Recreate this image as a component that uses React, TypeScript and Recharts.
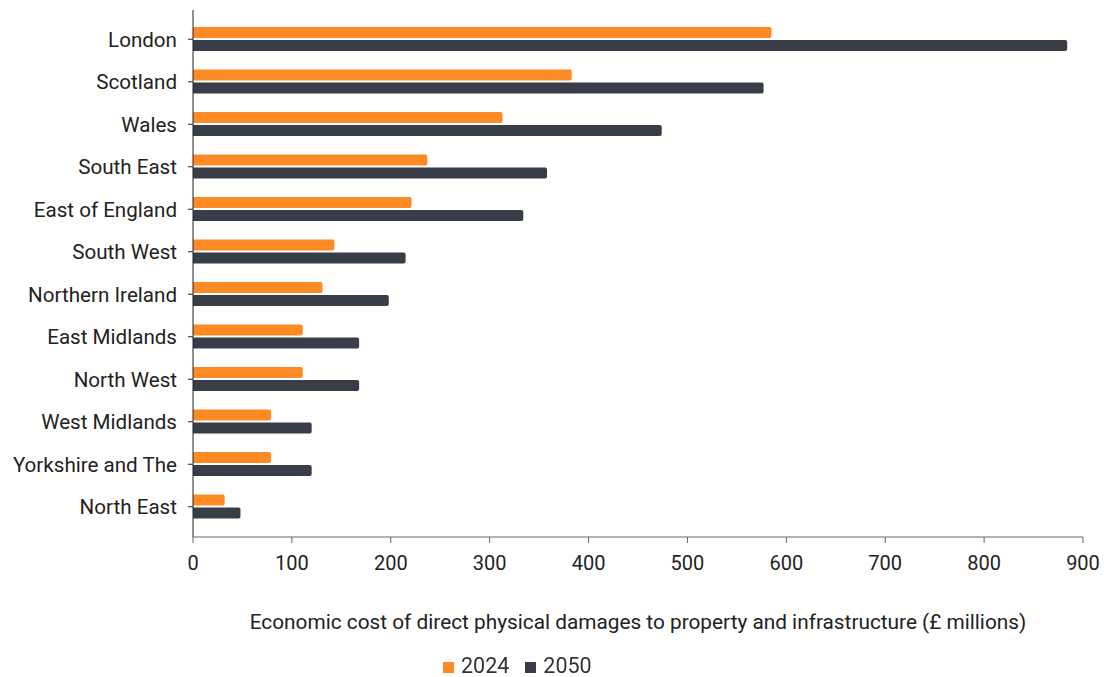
import { BarChart, Bar, XAxis, YAxis, Legend, Label } from 'recharts';

const regions = [
  'London',
  'Scotland',
  'Wales',
  'South East',
  'East of England',
  'South West',
  'Northern Ireland',
  'East Midlands',
  'North West',
  'West Midlands',
  'Yorkshire and The',
  'North East',
];
const cost2024 = [585, 383, 313, 237, 221, 143, 131, 111, 111, 79, 79, 32];
const cost2050 = [884, 577, 474, 358, 334, 215, 198, 168, 168, 120, 120, 48];
const xTicks = [0, 100, 200, 300, 400, 500, 600, 700, 800, 900];

const data = regions.map((region, i) => ({
  region,
  y2024: cost2024[i],
  y2050: cost2050[i],
}));

const font = 'Roboto, "Noto Sans", sans-serif';

export default function App() {
  return (
    <div style={{ position: 'fixed', left: 0, top: 0, background: '#fff' }}>
      <BarChart
        width={1104}
        height={677}
        data={data}
        layout="vertical"
        margin={{ top: 10, right: 21, bottom: 20, left: 0 }}
        barSize={11}
        barGap={2}
        style={{ fontFamily: font }}
      >
        <XAxis
          type="number"
          domain={[0, 900]}
          ticks={xTicks}
          axisLine={{ stroke: '#666' }}
          tickLine={{ stroke: '#666' }}
          tickSize={6}
          tickMargin={13}
          tick={{ fill: '#222', fontSize: 20 }}
          height={100}
        >
          <Label
            value="Economic cost of direct physical damages to property and infrastructure (£ millions)"
            position="insideBottom"
            offset={8}
            fill="#222"
            fontSize={20.8}
          />
        </XAxis>
        <YAxis
          type="category"
          dataKey="region"
          width={193}
          padding={{ top: 8, bottom: 9 }}
          axisLine={{ stroke: '#222' }}
          tickLine={{ stroke: '#222' }}
          tickSize={5}
          tickMargin={11}
          tick={{ fill: '#222', fontSize: 20.6 }}
          interval={0}
        />
        <Legend
          layout="horizontal"
          align="left"
          verticalAlign="bottom"
          iconType="square"
          iconSize={11}
          wrapperStyle={{ left: 443, bottom: 1, width: 'auto', fontSize: 21.5, lineHeight: '20px', color: '#333' }}
          formatter={(value) => (
            <span style={{ color: '#333', marginLeft: 3, marginRight: 6 }}>{value}</span>
          )}
        />
        <Bar dataKey="y2024" name="2024" fill="#fd8b25" radius={[0, 2, 2, 0]} isAnimationActive={false} />
        <Bar dataKey="y2050" name="2050" fill="#383d48" radius={[0, 2, 2, 0]} isAnimationActive={false} />
      </BarChart>
    </div>
  );
}
